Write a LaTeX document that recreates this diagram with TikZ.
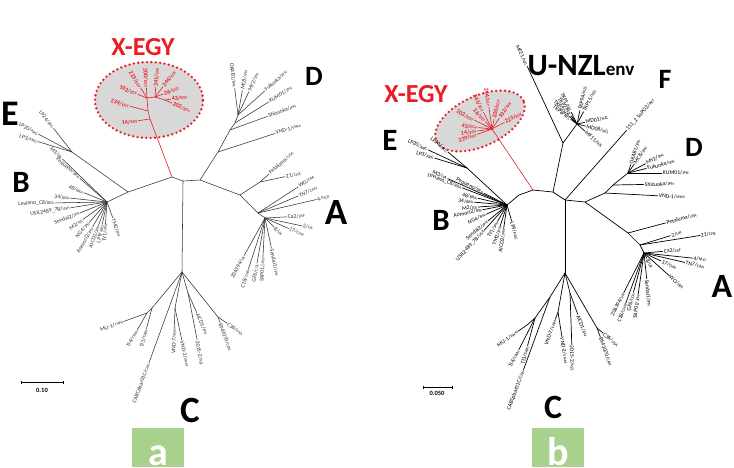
\documentclass[tikz,border=0pt]{standalone}
\usepackage{fontspec}
\setmainfont{Carlito}
\definecolor{xred}{RGB}{235,28,36}
\definecolor{eggfill}{RGB}{216,216,216}
\definecolor{boxgreen}{RGB}{169,209,142}
\newcommand\cty[1]{{\fontsize{4.2}{5}\selectfont #1}}
\newcommand\rlf{\fontsize{6}{7}\selectfont\bfseries}
\newcounter{lf}
\newcommand\leaf[5][]{%
  \stepcounter{lf}%
  \pgfmathsetmacro\lfang{mod(#3+720,360)}%
  \pgfmathtruncatemacro\lfflip{(\lfang>90 && \lfang<270) ? 1 : 0}%
  \ifnum\lfflip=1
    \pgfmathsetmacro\lfrot{\lfang-180}%
    \draw[cur,#1] (#2) -- ++(#3:#4pt) node[lab,anchor=east,rotate=\lfrot] (L\thelf) {#5};%
  \else
    \draw[cur,#1] (#2) -- ++(#3:#4pt) node[lab,anchor=west,rotate=#3] (L\thelf) {#5};%
  \fi}
\tikzset{
  br/.style={line width=0.55pt, black!80},
  brb/.style={line width=0.7pt, black},
  cur/.style={br},
  lab/.style={font=\fontsize{5.7}{6.5}\selectfont, inner sep=0.6pt},
  big/.style={font=\fontsize{#1}{#1}\selectfont\bfseries, inner sep=0pt},
  egg/.style={draw=xred, fill=eggfill, line width=2.6pt, dash pattern=on 0pt off 4.4pt, line cap=round},
  redbr/.style={xred, line width=0.6pt},
}
\begin{document}
\begin{tikzpicture}[x=1pt,y=-1pt]
\useasboundingbox (0,0) rectangle (734,467);
\fill[white] (0,0) rectangle (734,467);

%================ PANEL A ================
\tikzset{cur/.style={br}}
\draw[egg] (149,100) ellipse (54pt and 38pt);
\coordinate (aB) at (107,202);
\coordinate (aBE) at (128,192);
\coordinate (aE) at (72,152);
\coordinate (aR) at (172,177);
\coordinate (aC1) at (183,181);
\coordinate (aC2) at (200,180);
\coordinate (aC) at (182,272);
\coordinate (aD1) at (218,152);
\coordinate (aD2) at (230,130);
\coordinate (aD3) at (235,123);
\coordinate (aD4) at (238,115);
\coordinate (aA1) at (240,195);
\coordinate (aP) at (260,182);
\coordinate (aA2) at (258,213);
\coordinate (aA3) at (265,218);
\coordinate (aX1) at (150,119);
\coordinate (aX2) at (148,111);
\coordinate (aX3) at (147,98);
\coordinate (aX4) at (155,97);
\coordinate (aX5) at (165,100);
\coordinate (aCa) at (152,308);
\coordinate (aCb) at (147,313);
\coordinate (aCv) at (175,308);
\coordinate (aCc) at (188,293);
\coordinate (aCd) at (218,317);

\draw[br] (aB) -- (aBE) -- (aR) -- (aC1) -- (aC2) -- (aD1) -- (aD2) -- (aD3) -- (aD4);
\draw[br] (aBE) -- (aE);
\draw[br] (aC1) -- (aC);
\draw[br] (aC2) -- (aA1) -- (aA2) -- (aA3);
\draw[br] (aA1) -- (aP);
\draw[br] (aC) -- (aCa) -- (aCb);
\draw[br] (aC) -- (aCv);
\draw[br] (aC) -- (aCc);
\draw[br] (aC) -- (aCd);
\draw[redbr] (aR) -- (aX1) -- (aX2) -- (aX3) -- (aX4) -- (aX5);

% X-EGY leaves
\leaf[redbr]{aX1}{188}{12}{\rlf 14/\cty{EGY}}
\leaf[redbr]{aX2}{165}{19}{\rlf 239/\cty{EGY}}
\leaf[redbr]{aX3}{158}{10}{\rlf 102/\cty{EGY}}
\leaf[redbr]{aX3}{122}{12}{\rlf 223/\cty{EGY}}
\leaf[redbr]{aX3}{93}{10}{\rlf 200/\cty{EGY}}
\leaf[redbr]{aX4}{86}{10}{\rlf 241/\cty{EGY}}
\leaf[redbr]{aX4}{52}{13}{\rlf 244/\cty{EGY}}
\leaf[redbr]{aX4}{20}{9}{\rlf 26/\cty{EGY}}
\leaf[redbr]{aX5}{8}{6}{\rlf 43/\cty{EGY}}
\leaf[redbr]{aX5}{-24}{8}{\rlf 202/\cty{EGY}}

% E
\leaf{aE}{128}{30}{LP24/\cty{ARG}}
\leaf{aE}{152}{38}{LP20/\cty{ARG}}
\leaf{aE}{163}{36}{LP3/\cty{ARG}}
% B
\leaf{aB}{136}{62}{M3/\cty{ITA}}
\leaf{aB}{139}{36}{Pequeno/\cty{BRA}}
\leaf{aB}{158}{25}{48/\cty{BRA}}
\leaf{aB}{174}{37}{34/\cty{BRA}}
\leaf{aB}{181}{52}{Leviano\_C8/\cty{BRA}}
\leaf{aB}{189}{37}{USIL2489\_7B/\cty{USA}}
\leaf{aB}{202}{29}{Sendai2/\cty{JPN}}
\leaf{aB}{216}{30}{M2/\cty{ITA}}
\leaf{aB}{229}{27}{NG4/\cty{JPN}}
\leaf{aB}{240}{29}{Aomori2/\cty{JPN}}
\leaf{aB}{250}{25}{AICD2/\cty{JPN}}
\leaf{aB}{258}{23}{LP9/\cty{ARG}}
\leaf{aB}{266}{22}{TY1/\cty{JPN}}
\leaf{aB}{-70}{17}{TM2/\cty{JPN}}
% D
\leaf{aD1}{18}{60}{VND-1/\cty{VNM}}
\leaf{aD2}{20}{40}{Shizuoka/\cty{JPN}}
\leaf{aD3}{32}{40}{KUM01/\cty{JPN}}
\leaf{aD4}{42}{36}{Fukuoka/\cty{JPN}}
\leaf{aD4}{65}{26}{MY2/\cty{JPN}}
\leaf{aD4}{80}{25}{MC8/\cty{JPN}}
\leaf{aD4}{97}{27}{OKAB1/\cty{JPN}}
% A
\leaf{aP}{42}{12}{Petaluma/\cty{USA}}
\leaf{aP}{12}{26}{Z1/\cty{CHE}}
\leaf{aA2}{33}{48}{WO/\cty{FRA}}
\leaf{aA2}{23}{44}{TN7/\cty{CAN}}
\leaf{aA2}{13}{60}{4/\cty{NLD}}
\leaf{aA3}{3}{22}{Ca2/\cty{ZAF}}
\leaf{aA3}{-12}{38}{2/\cty{UK}}
\leaf{aA3}{-24}{26}{17/\cty{CHN}}
\leaf{aA3}{-45}{13}{8/\cty{UK}}
\leaf{aA3}{-78}{31}{Sendai1/\cty{JPN}}
\leaf{aA3}{-93}{40}{SAP01/\cty{JPN}}
\leaf{aA3}{-100}{46}{GF6/\cty{COL}}
\leaf{aA3}{-108}{54}{C18/\cty{CHN}}
\leaf{aA3}{-119}{43}{206394/\cty{UK}}
% C
\leaf{aCb}{200}{25}{MU-1/\cty{TWN}}
\leaf{aCb}{240}{20}{TI4/\cty{TWN}}
\leaf{aCa}{255}{22}{TI3/\cty{TWN}}
\leaf{aC}{250}{97}{CABCpbar01C/\cty{CAN}}
\leaf{aCv}{-92}{19}{VND-7/\cty{VNM}}
\leaf{aCv}{-78}{33}{VND-2/\cty{VNM}}
\leaf{aCc}{-79}{48}{2015-2/\cty{NZL}}
\leaf{aCc}{-66}{22}{AICD1/\cty{JPN}}
\leaf{aCd}{-70}{6}{BM3070/\cty{CAN}}
\leaf{aCd}{-35}{11}{C36/\cty{USA}}

% big letters panel a
\node[big=26, text=xred] (xa) at (143,47) {X-EGY};
\node[big=28] (Da) at (314,76) {D};
\node[big=36] (Ea) at (10,114) {E};
\node[big=31] (Ba) at (21,182) {B};
\node[big=37] (Aa) at (336,212) {A};
\node[big=37] (Ca) at (190,410) {C};
% scale bar a
\coordinate (sa1) at (21,382);
\coordinate (sa2) at (63,382);
\draw[line width=0.9pt] (sa1) -- (sa2);
\draw[line width=0.6pt] (sa1) ++(0,-1.5) -- ++(0,3) (sa2) ++(0,-1.5) -- ++(0,3);
\node[font=\fontsize{6.5}{7}\selectfont\bfseries] (sal) at (42,390) {0.10};
% panel tag a
\fill[boxgreen] (132,428) rectangle (184,467);
\node[anchor=base, text=white, font=\fontsize{40}{40}\selectfont\bfseries, inner sep=0] (taga) at (158,465) {a};

%================ PANEL B ================
\tikzset{cur/.style={brb}}
\draw[egg, rotate around={25:(480,121)}] (480,121) ellipse (48pt and 25pt);
\coordinate (bB) at (507,205);
\coordinate (bBm) at (519,195);
\coordinate (bE) at (467,168);
\coordinate (bR) at (533,190);
\coordinate (bN) at (553,192);
\coordinate (bC1) at (565,200);
\coordinate (bC2) at (585,202);
\coordinate (bC) at (565,273);
\coordinate (bNZ1) at (563,143);
\coordinate (bNZ2) at (577,124);
\coordinate (bD1) at (605,193);
\coordinate (bD2) at (613,185);
\coordinate (bD3) at (628,173);
\coordinate (bA1) at (628,233);
\coordinate (bA2) at (640,245);
\coordinate (bA3) at (644,253);
\coordinate (bX) at (492,129);
\coordinate (bCa) at (550,297);
\coordinate (bCb) at (535,318);
\coordinate (bCc) at (527,325);
\coordinate (bCv) at (558,312);
\coordinate (bCn) at (570,293);
\coordinate (bCd) at (597,328);

\draw[brb] (bB) -- (bBm) -- (bR) -- (bN) -- (bC1) -- (bC2) -- (bD1) -- (bD2) -- (bD3);
\draw[brb] (bE) -- (bB);
\draw[brb] (bC2) -- (bA1) -- (bA2) -- (bA3);
\draw[brb] (bC1) -- (bC);
\draw[brb] (bN) -- (bNZ1) -- (bNZ2);
\draw[brb] (bC) -- (bCa) -- (bCb) -- (bCc);
\draw[brb] (bC) -- (bCv);
\draw[brb] (bC) -- (bCn);
\draw[brb] (bC) -- (bCd);
\draw[redbr] (bR) -- (bX);

% X-EGY leaves b
\leaf[redbr]{bX}{200}{16}{\rlf 239/\cty{EGY}}
\leaf[redbr]{bX}{188}{15}{\rlf 14/\cty{EGY}}
\leaf[redbr]{bX}{174}{14}{\rlf 43/\cty{EGY}}
\leaf[redbr]{bX}{153}{20}{\rlf 202/\cty{EGY}}
\leaf[redbr]{bX}{132}{10}{\rlf 26/\cty{EGY}}
\leaf[redbr]{bX}{117}{19}{\rlf 241/\cty{EGY}}
\leaf[redbr]{bX}{98}{22}{\rlf 244/\cty{EGY}}
\leaf[redbr]{bX}{78}{10}{\rlf 200/\cty{EGY}}
\leaf[redbr]{bX}{56}{13}{\rlf 102/\cty{EGY}}
\leaf[redbr]{bX}{28}{14}{\rlf 223/\cty{EGY}}
% NZL
\leaf{bNZ1}{115}{85}{MF21/\cty{NZL}}
\leaf{bNZ2}{116}{13}{TKP1/\cty{NZL}}
\leaf{bNZ2}{125}{10}{TKP2/\cty{NZL}}
\leaf{bNZ2}{134}{11}{TKP3/\cty{NZL}}
\leaf{bNZ2}{143}{8}{TKP8/\cty{NZL}}
\leaf{bNZ2}{78}{14}{TKP9A/\cty{NZL}}
\leaf{bNZ2}{62}{14}{TKP15/\cty{NZL}}
\leaf{bNZ2}{12}{8}{MD01/\cty{NZL}}
\leaf{bNZ2}{-14}{9}{MD08/\cty{NZL}}
\leaf{bNZ2}{-42}{11}{MF11/\cty{NZL}}
% F
\leaf{bC1}{48.5}{93}{151\_2 LisPO2/\cty{PRT}}
% D
\leaf{bD1}{-3}{53}{VND-1/\cty{VNM}}
\leaf{bD2}{1}{31}{Shizuoka/\cty{JPN}}
\leaf{bD3}{0}{34}{KUM01/\cty{JPN}}
\leaf{bD3}{14}{19}{Fukuoka/\cty{JPN}}
\leaf{bD3}{28}{20}{MY2/\cty{JPN}}
\leaf{bD3}{55}{11}{MC8/\cty{JPN}}
\leaf{bD3}{72}{9}{OKAB1/\cty{JPN}}
% A
\leaf{bA1}{15}{39}{Petaluma/\cty{USA}}
\leaf{bA2}{17}{32}{2/\cty{UK}}
\leaf{bA2}{9}{61}{Z1/\cty{CHE}}
\leaf{bA3}{5}{19}{Ca2/\cty{ZAF}}
\leaf{bA3}{-6}{49}{4/\cty{NLD}}
\leaf{bA3}{-13}{42}{TN7/\cty{CAN}}
\leaf{bA3}{-25}{19}{17/\cty{CHN}}
\leaf{bA3}{-42}{34}{WO/\cty{FRA}}
\leaf{bA3}{-62}{6}{8/\cty{UK}}
\leaf{bA3}{-84}{26}{Sendai1/\cty{JPN}}
\leaf{bA3}{-98}{42}{SAP01/\cty{JPN}}
\leaf{bA3}{-105}{41}{GF6/\cty{COL}}
\leaf{bA3}{-110}{54}{C18/\cty{CHN}}
\leaf{bA3}{-117}{45}{206394/\cty{UK}}
% C
\leaf{bCc}{215}{11}{MU-1/\cty{TWN}}
\leaf{bCb}{243}{36}{TI4/\cty{TWN}}
\leaf{bCb}{255}{29}{TI3/\cty{TWN}}
\leaf{bCa}{250}{78}{CABCpbar01C/\cty{CAN}}
\leaf{bCv}{-110}{8}{VND-7/\cty{VNM}}
\leaf{bCv}{-81}{25}{VND-2/\cty{VNM}}
\leaf{bCn}{-88}{52}{2015-2/\cty{NZL}}
\leaf{bCn}{-70}{23}{AICD1/\cty{JPN}}
\leaf{bCd}{-40}{8}{C36/\cty{USA}}
\leaf{bCd}{-70}{10}{BM3070/\cty{CAN}}
% E
\leaf{bE}{140}{25}{LP24/\cty{ARG}}
\leaf{bE}{155}{43}{LP20/\cty{ARG}}
\leaf{bE}{163}{34}{LP3/\cty{ARG}}
% B
\leaf{bB}{156}{65}{M3/\cty{ITA}}
\leaf{bB}{159}{48}{Leviano\_C8/\cty{BRA}}
\leaf{bB}{153}{26}{Pequeno/\cty{BRA}}
\leaf{bB}{167}{30}{48/\cty{BRA}}
\leaf{bB}{175}{33}{34/\cty{BRA}}
\leaf{bB}{184}{29}{M2/\cty{ITA}}
\leaf{bB}{191}{25}{Aomori2/\cty{JPN}}
\leaf{bB}{204}{23}{NG4/\cty{JPN}}
\leaf{bB}{220}{25}{Sendai2/\cty{JPN}}
\leaf{bB}{228}{34}{USIL2489\_7B/\cty{USA}}
\leaf{bB}{240}{19}{TY1/\cty{JPN}}
\leaf{bB}{252}{22}{TM2/\cty{JPN}}
\leaf{bB}{262}{24}{AICD2/\cty{JPN}}
\leaf{bB}{-74}{17}{LP9/\cty{ARG}}

% big letters panel b
\node[big=26, text=xred] (xb) at (416,94) {X-EGY};
\node[big=31] (Ub) at (581,66) {U-NZL\fontsize{19}{19}\selectfont env};
\node[big=28] (Fb) at (665,79) {F};
\node[big=28] (Db) at (694,147) {D};
\node[big=31] (Eb) at (390,140) {E};
\node[big=31] (Bb) at (441,220) {B};
\node[big=34] (Ab) at (722,286) {A};
\node[big=34] (Cb) at (553,407) {C};
% scale bar b
\coordinate (sb1) at (423,387);
\coordinate (sb2) at (452,387);
\draw[line width=0.9pt] (sb1) -- (sb2);
\draw[line width=0.6pt] (sb1) ++(0,-1.5) -- ++(0,3) (sb2) ++(0,-1.5) -- ++(0,3);
\node[font=\fontsize{6.5}{7}\selectfont\bfseries] (sbl) at (437,393) {0.050};
% panel tag b
\fill[boxgreen] (532,428) rectangle (584,467);
\node[anchor=base, text=white, font=\fontsize{40}{40}\selectfont\bfseries, inner sep=0] (tagb) at (558,465) {b};
\end{tikzpicture}
\end{document}
